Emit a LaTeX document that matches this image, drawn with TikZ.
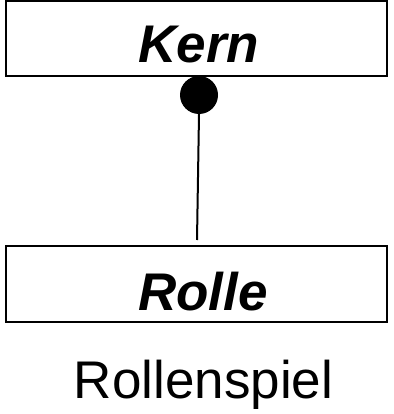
\documentclass[tikz,border=0pt]{standalone}
\usepackage{fontspec}
\setmainfont{Liberation Sans}
\begin{document}
\begin{tikzpicture}[x=1pt,y=-1pt,
  umlbox/.style={draw=black,line width=2pt,minimum width=381pt,inner sep=0pt,outer sep=0pt},
  title/.style={font=\fontsize{53}{60}\selectfont\bfseries\itshape,anchor=base,inner sep=0pt},
  caption/.style={font=\fontsize{53}{60}\selectfont,anchor=base,inner sep=0pt},
  conn/.style={line width=2pt}]
\useasboundingbox (0,0) rectangle (393,414);
\node[umlbox,minimum height=75pt] (kern) at (196.5,38.5) {};
\node[umlbox,minimum height=76pt] (rolle) at (196.5,284) {};
\node[title] (kerntxt) at (199,63) {Kern};
\node[title] (rolletxt) at (203,310) {Rolle};
\node[caption] (cap) at (203.5,398) {Rollenspiel};
\node[circle,fill=black,minimum size=38pt,inner sep=0pt] (dot) at (199,95) {};
\coordinate (lend) at (197,240);
\draw[conn] (dot.south) -- (lend);
\end{tikzpicture}
\end{document}
